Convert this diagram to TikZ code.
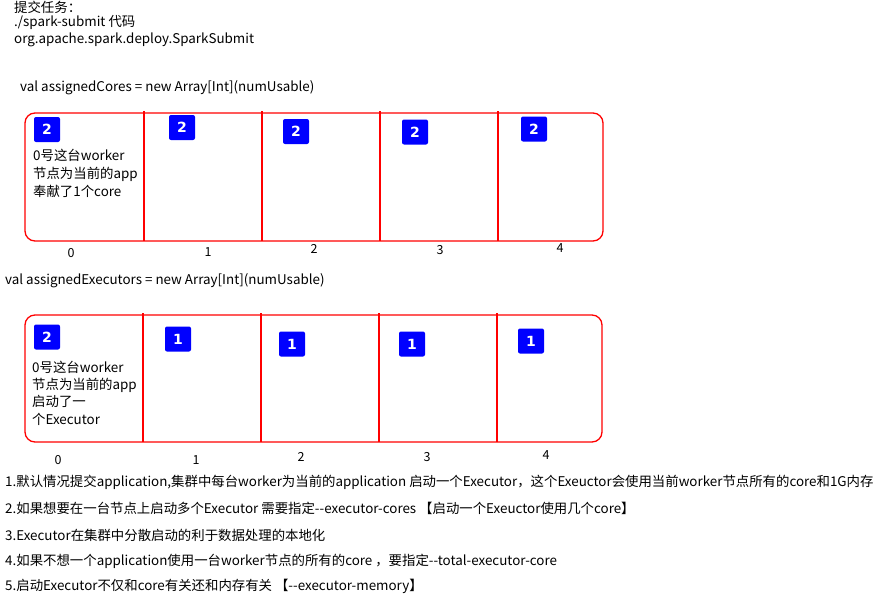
\documentclass[tikz,border=0pt]{standalone}
\usepackage{fontspec}
\setmainfont{Noto Sans CJK SC}
\newfontfamily\numfont{DejaVu Sans}
\begin{document}
\begin{tikzpicture}[x=1pt,y=-1pt,
  every node/.style={inner sep=0pt},
  txt/.style={anchor=west,font=\fontsize{13.4}{18}\selectfont},
  idx/.style={font=\fontsize{12.5}{14}\selectfont},
  num/.style={fill=blue,text=white,rounded corners=2pt,minimum width=26pt,minimum height=25pt,font=\numfont\bfseries\fontsize{14}{14}\selectfont},
  frame/.style={draw=red,line width=1.3pt}]
\useasboundingbox (0,0) rectangle (884,594);
\node[txt] (task) at (14,7) {提交任务：};
\node[txt] (submit) at (14,22) {./spark-submit 代码};
\node[txt] (cls) at (14,40) {org.apache.spark.deploy.SparkSubmit};
\node[txt] (cores) at (20,88) {val assignedCores = new Array[Int](numUsable)};
% assignedCores
\draw [frame,rounded corners=10pt] (25,113) rectangle (603,241);
\foreach \x in {144,262,380,498}
  \draw [frame] (\x,111) -- (\x,241);
\node[num] (c0) at (47,129.5) {2};
\node[num] (c1) at (182,127.5) {2};
\node[num] (c2) at (296,131.5) {2};
\node[num] (c3) at (415,132) {2};
\node[num] (c4) at (534,129) {2};
\node[txt,align=left] (cnote) at (33,173) {0号这台worker\\节点为当前的app\\奉献了1个core};
\node[idx] (ci0) at (71,253) {0};
\node[idx] (ci1) at (208,252) {1};
\node[idx] (ci2) at (314,249) {2};
\node[idx] (ci3) at (440,250) {3};
\node[idx] (ci4) at (560,248) {4};
\node[txt] (execs) at (5,281) {val assignedExecutors = new Array[Int](numUsable)};
% assignedExecutors
\draw [frame,rounded corners=10pt] (25,315) rectangle (602,442);
\foreach \x in {143,261,379,497}
  \draw [frame] (\x,313) -- (\x,442);
\node[num] (e0) at (47,337) {2};
\node[num] (e1) at (178,339) {1};
\node[num] (e2) at (292,344) {1};
\node[num] (e3) at (412,344) {1};
\node[num] (e4) at (531,341) {1};
\node[txt,align=left,font=\fontsize{13.4}{17.3}\selectfont] (enote) at (32,393) {0号这台worker\\节点为当前的app\\启动了一\\个Executor};
\node[idx] (ei0) at (58,460) {0};
\node[idx] (ei1) at (196,460) {1};
\node[idx] (ei2) at (301,457) {2};
\node[idx] (ei3) at (427,457) {3};
\node[idx] (ei4) at (546,455) {4};
% notes
\node[txt] (n1) at (5,482) {1.默认情况提交application,集群中每台worker为当前的application 启动一个Executor，这个Exeuctor会使用当前worker节点所有的core和1G内存};
\node[txt] (n2) at (5,508) {2.如果想要在一台节点上启动多个Executor 需要指定-{}-executor-cores 【启动一个Exeuctor使用几个core】};
\node[txt] (n3) at (5,535) {3.Executor在集群中分散启动的利于数据处理的本地化};
\node[txt] (n4) at (5,561) {4.如果不想一个application使用一台worker节点的所有的core ，要指定-{}-total-executor-core};
\node[txt] (n5) at (5,586) {5.启动Executor不仅和core有关还和内存有关 【-{}-executor-memory】};
\end{tikzpicture}
\end{document}
